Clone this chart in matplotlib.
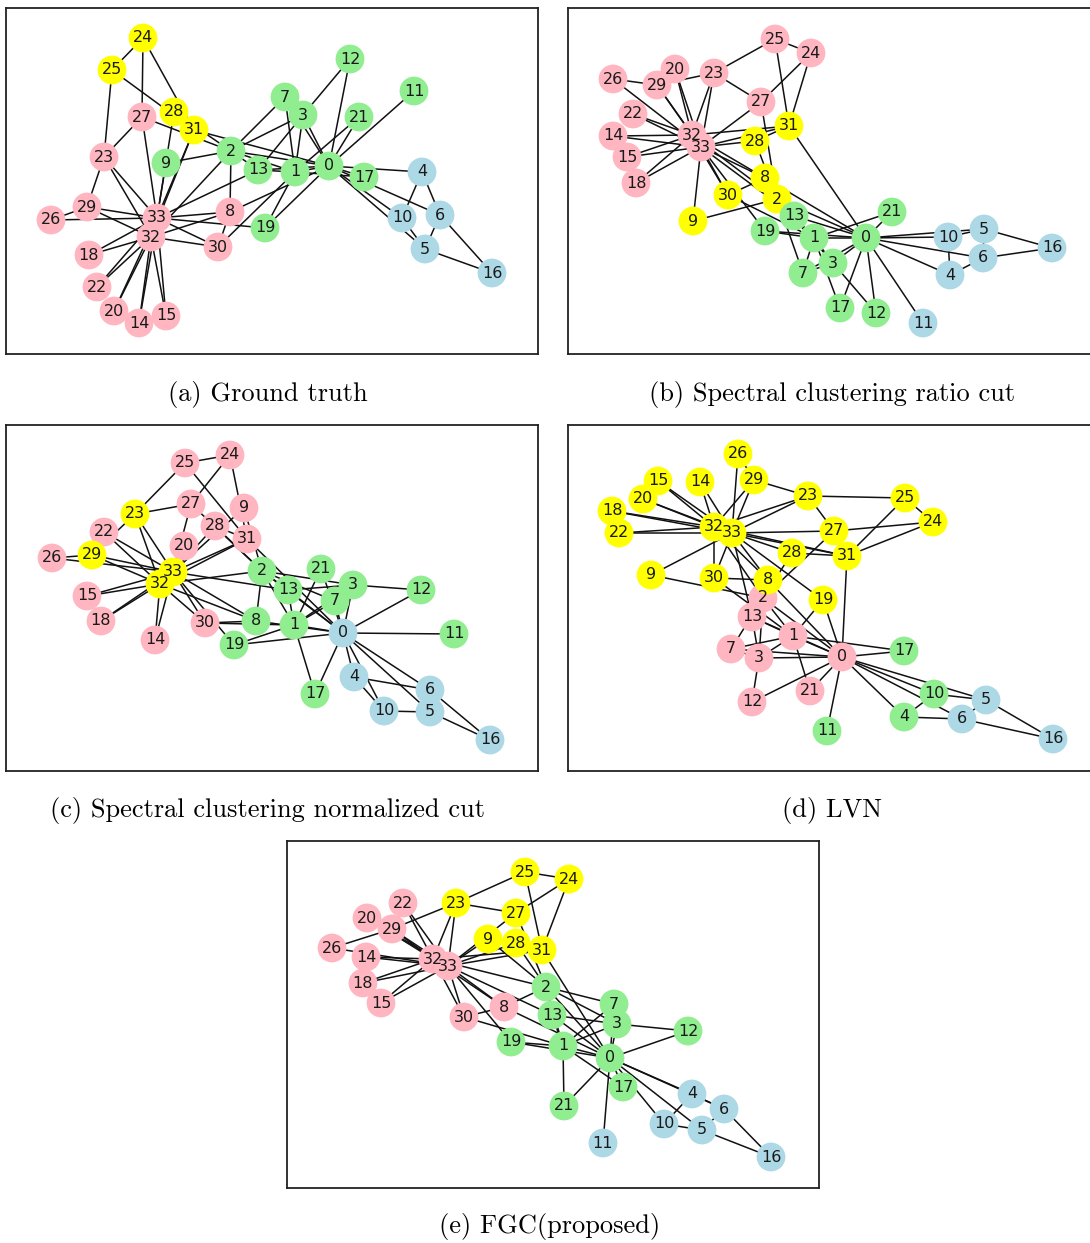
import numpy as np
import matplotlib.pyplot as plt
from matplotlib.collections import LineCollection

# Zachary karate club: 34 members, 78 ties
edges = [(0, 1), (0, 2), (0, 3), (0, 4), (0, 5), (0, 6), (0, 7), (0, 8), (0, 10), (0, 11),
         (0, 12), (0, 13), (0, 17), (0, 19), (0, 21), (0, 31),
         (1, 2), (1, 3), (1, 7), (1, 13), (1, 17), (1, 19), (1, 21), (1, 30),
         (2, 3), (2, 7), (2, 8), (2, 9), (2, 13), (2, 27), (2, 28), (2, 32),
         (3, 7), (3, 12), (3, 13), (4, 6), (4, 10), (5, 6), (5, 10), (5, 16), (6, 16),
         (8, 30), (8, 32), (8, 33), (9, 33), (13, 33), (14, 32), (14, 33), (15, 32), (15, 33),
         (18, 32), (18, 33), (19, 33), (20, 32), (20, 33), (22, 32), (22, 33),
         (23, 25), (23, 27), (23, 29), (23, 32), (23, 33), (24, 25), (24, 27), (24, 31),
         (25, 31), (26, 29), (26, 33), (27, 33), (28, 31), (28, 33), (29, 32), (29, 33),
         (30, 32), (30, 33), (31, 32), (31, 33), (32, 33)]

# layouts (x, y) for nodes 0..33, one per panel
pos_a = [(329, 166), (295, 172), (231, 151), (303, 115), (422, 172), (425, 249), (440, 215),
         (285, 97), (230, 212), (166, 163), (402, 218), (414, 91), (350, 59), (258, 170),
         (139, 323), (166, 316), (492, 273), (364, 177), (89, 255), (265, 228), (114, 311),
         (359, 117), (97, 287), (104, 157), (143, 38), (112, 70), (51, 220), (142, 117),
         (174, 112), (87, 207), (218, 247), (194, 130), (151, 237), (157, 218)]
pos_b = [(866, 238), (814, 238), (777, 199), (833, 263), (950, 275), (984, 229), (983, 258),
         (803, 273), (765, 178), (693, 221), (948, 237), (923, 323), (876, 313), (794, 216),
         (613, 136), (627, 157), (1052, 248), (840, 308), (636, 183), (765, 231), (675, 69),
         (892, 212), (633, 114), (714, 73), (811, 53), (775, 39), (613, 79), (761, 102),
         (755, 141), (657, 85), (728, 195), (789, 126), (692, 135), (701, 147)]
pos_c = [(343, 633), (294, 625), (262, 571), (353, 585), (354, 677), (430, 712), (430, 690),
         (335, 601), (256, 621), (244, 508), (384, 711), (454, 634), (421, 590), (288, 590),
         (155, 640), (87, 596), (490, 740), (315, 694), (101, 621), (234, 645), (184, 546),
         (321, 569), (104, 532), (135, 514), (230, 455), (185, 463), (52, 558), (191, 504),
         (215, 526), (92, 555), (205, 623), (247, 539), (160, 584), (173, 572)]
pos_d = [(842, 657), (793, 636), (763, 598), (759, 658), (904, 717), (986, 700), (962, 719),
         (731, 649), (768, 580), (651, 575), (934, 694), (827, 731), (752, 702), (752, 617),
         (700, 482), (658, 481), (1053, 739), (904, 651), (612, 511), (823, 600), (643, 499),
         (810, 691), (619, 533), (808, 496), (933, 522), (905, 498), (738, 454), (834, 531),
         (792, 553), (754, 480), (714, 578), (847, 556), (714, 527), (732, 533)]
pos_e = [(610, 1058), (563, 1046), (546, 987), (617, 1024), (692, 1094), (702, 1130),
         (724, 1109), (614, 1004), (504, 1007), (488, 939), (664, 1124), (603, 1143),
         (688, 1031), (552, 1015), (366, 957), (381, 1003), (771, 1157), (623, 1087),
         (363, 983), (511, 1042), (367, 918), (564, 1106), (403, 903), (456, 903),
         (569, 879), (525, 872), (332, 948), (516, 913), (516, 943), (392, 929),
         (464, 1017), (542, 950), (433, 959), (448, 966)]

# community labels per node: P pink, G green, B blue, Y yellow
groups_a = "GGGGBBBGPGBGGGPPBGPGPGPPYYPPYPPYPP"
groups_b = "GGYGBBBGYYBBGGPPBGPGPGPPPPPPYPYYPP"
groups_c = "BGGGBBBGGPBGGGPPBGPGPGPYPPPPPYPPYY"
groups_d = "PPPPGBBPYYGGPPYYBGYYYPYYYYYYYYYYYY"
groups_e = "GGGGBBBGPYBBGGPPBGPGPGPYYYPYYPPYPP"

captions = ["(a) Ground truth", "(b) Spectral clustering ratio cut",
            "(c) Spectral clustering normalized cut", "(d) LVN", "(e) FGC(proposed)"]

colors = {'P': '#ffb6c1', 'G': '#90ee90', 'B': '#add8e6', 'Y': '#ffff00'}

# frame boxes in pixels: left, top, right, bottom
boxes = [(6, 8, 538, 354), (568, 8, 1101, 354), (6, 425, 538, 771),
         (568, 425, 1101, 771), (287, 841, 819, 1188)]
cap_xy = [(268, 394), (832, 394), (268, 810), (832, 810), (550, 1227)]

W, H = 1090, 1243
fig = plt.figure(figsize=(W / 100, H / 100), dpi=100)

layouts = [pos_a, pos_b, pos_c, pos_d, pos_e]
groups = [groups_a, groups_b, groups_c, groups_d, groups_e]

for pos, grp, box, cap, cxy in zip(layouts, groups, boxes, captions, cap_xy):
    x0, y0, x1, y1 = box
    ax = fig.add_axes([x0 / W, 1 - y1 / H, (x1 - x0) / W, (y1 - y0) / H])
    ax.set_xlim(x0, x1)
    ax.set_ylim(y1, y0)
    ax.set_xticks([])
    ax.set_yticks([])
    for s in ax.spines.values():
        s.set_color('#222222')
        s.set_linewidth(1.3)

    p = np.array(pos, dtype=float)
    segs = [[p[u], p[v]] for u, v in edges]
    ax.add_collection(LineCollection(segs, colors='#111111', linewidths=1.1, zorder=1))
    ax.scatter(p[:, 0], p[:, 1], s=430, c=[colors[g] for g in grp],
               linewidths=0, zorder=2)
    for i, (x, y) in enumerate(p):
        ax.text(x, y, str(i), ha='center', va='center', fontsize=11.5,
                color='#1a1a1a', zorder=3)

    fig.text(cxy[0] / W, 1 - cxy[1] / H, cap, ha='center', va='center',
             fontsize=19, family='cmr10')

fig.savefig('out.png', dpi=100)
